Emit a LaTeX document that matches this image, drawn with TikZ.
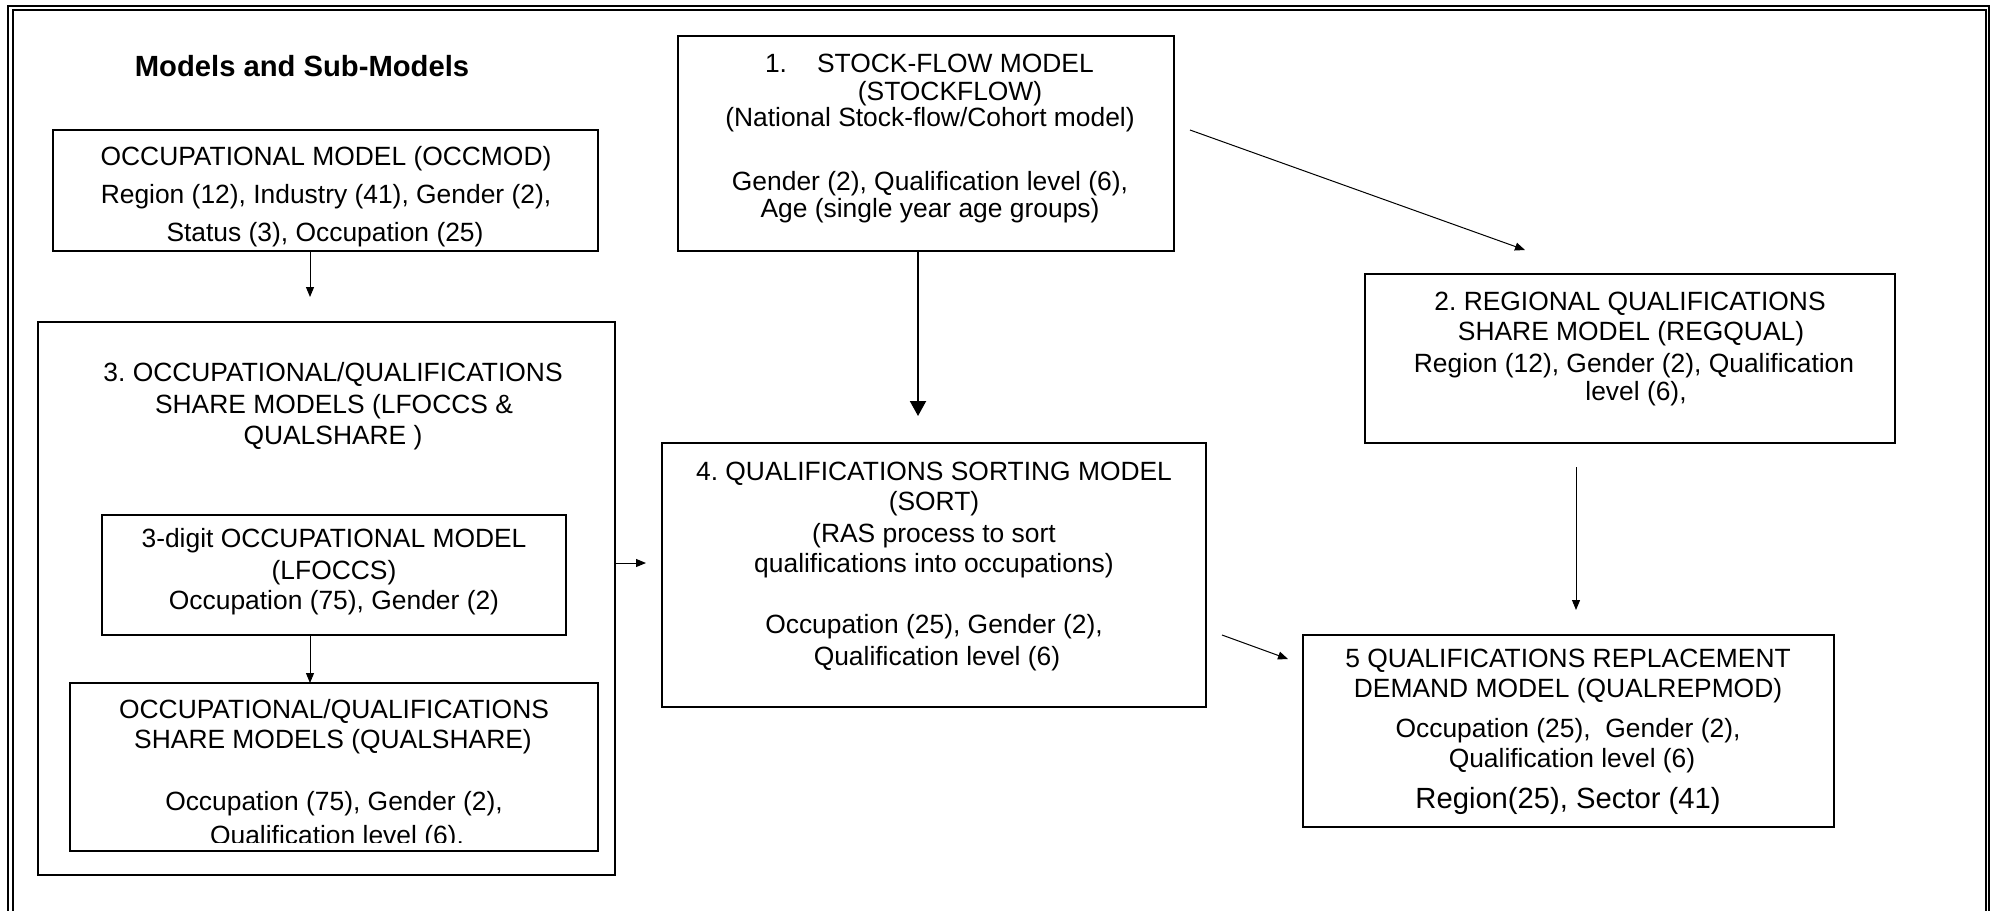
\documentclass[tikz,border=0pt]{standalone}
\usepackage{fontspec}
\setmainfont{Liberation Sans}
\usetikzlibrary{arrows.meta}
\frenchspacing
\newcommand\txtline[4]{\node[txt] (#1) at (#2,#3) {#4};}
\begin{document}
\begin{tikzpicture}[x=0.5pt,y=-0.5pt,
  thinbox/.style={draw=black, line width=0.55pt, inner sep=0pt, outer sep=0pt},
  thickbox/.style={draw=black, line width=1pt, inner sep=0pt, outer sep=0pt},
  txt/.style={anchor=base, inner sep=0pt, outer sep=0pt, font=\fontsize{13.2}{15}\selectfont},
  bigtxt/.style={txt, font=\fontsize{14.6}{17}\selectfont},
  titletxt/.style={txt, font=\fontsize{14.6}{17}\selectfont\bfseries},
  thinarr/.style={line width=0.5pt, -{Triangle[length=5pt,width=4pt]}},
  thickarr/.style={line width=1pt, -{Triangle[length=7.5pt,width=8pt]}},
  pageframe/.style={line width=1pt}
]
\useasboundingbox (0,0) rectangle (1995,910);
% page frame (double line)
\draw[pageframe] (8.3,912) -- (8.3,6) -- (1989.3,6) -- (1989.3,912);
\draw[pageframe] (12.7,912) -- (12.7,10.3) -- (1986,10.3) -- (1986,912);

% title
\node[titletxt] (title) at (302,76) {Models and Sub-Models};

% boxes
\node[thinbox, minimum width=272.5pt, minimum height=60.5pt] (occ) at (325.5,190.5) {};
\node[thickbox, minimum width=248pt, minimum height=107.5pt] (stock) at (926,143.5) {};
\node[thickbox, minimum width=265pt, minimum height=84.5pt] (regq) at (1630,358.5) {};
\node[thickbox, minimum width=288.5pt, minimum height=276.5pt] (box3) at (326.5,598.5) {};
\node[thinbox, minimum width=232pt, minimum height=60pt] (lf) at (334,575) {};
\node[thickbox, minimum width=264pt, minimum height=84pt] (qs) at (334,767) {};
\node[thickbox, minimum width=272pt, minimum height=132pt] (sort) at (934,575) {};
\node[thinbox, minimum width=265.5pt, minimum height=96pt] (qrep) at (1568.5,731) {};

% OCCMOD text
\txtline{occA}{326}{165}{OCCUPATIONAL MODEL (OCCMOD)}
\txtline{occB}{326}{203}{Region (12), Industry (41), Gender (2),}
\txtline{occC}{325}{241}{Status (3), Occupation (25)}

% STOCKFLOW text
\node[txt, anchor=base west] (stA) at (765,72) {1.\hspace{15pt}STOCK-FLOW MODEL};
\txtline{stB}{950}{100}{(STOCKFLOW)}
\txtline{stC}{930}{126}{(National Stock-flow/Cohort model)}
\txtline{stD}{930}{190}{Gender (2), Qualification level (6),}
\txtline{stE}{930}{217}{Age (single year age groups)}

% REGQUAL text
\txtline{rqA}{1630}{310}{2. REGIONAL QUALIFICATIONS}
\txtline{rqB}{1631}{340}{SHARE MODEL (REGQUAL)}
\txtline{rqC}{1634}{372}{Region (12), Gender (2), Qualification}
\txtline{rqD}{1636}{400}{level (6),}

% box 3 text
\txtline{bA}{333}{381}{3. OCCUPATIONAL/QUALIFICATIONS}
\txtline{bB}{334}{413}{SHARE MODELS (LFOCCS \&}
\txtline{bC}{333}{444}{QUALSHARE )}

% LFOCCS text
\txtline{lfA}{334}{547}{3-digit OCCUPATIONAL MODEL}
\txtline{lfB}{334}{579}{(LFOCCS)}
\txtline{lfC}{334}{609}{Occupation (75), Gender (2)}

% QUALSHARE text
\txtline{qsA}{334}{718}{OCCUPATIONAL/QUALIFICATIONS}
\txtline{qsB}{333}{748}{SHARE MODELS (QUALSHARE)}
\txtline{qsC}{334}{810}{Occupation (75), Gender (2),}
\begin{scope}
\clip (60,780) rectangle (600,842);
\txtline{qsD}{337}{844}{Qualification level (6).}
\end{scope}

% SORT text
\txtline{soA}{934}{480}{4. QUALIFICATIONS SORTING MODEL}
\txtline{soB}{934}{510}{(SORT)}
\txtline{soC}{934}{542}{(RAS process to sort}
\txtline{soD}{934}{572}{qualifications into occupations)}
\txtline{soE}{934}{633}{Occupation (25), Gender (2),}
\txtline{soF}{937}{665}{Qualification level (6)}

% QUALREPMOD text
\txtline{qrA}{1568}{667}{5 QUALIFICATIONS REPLACEMENT}
\txtline{qrB}{1568}{697}{DEMAND MODEL (QUALREPMOD)}
\txtline{qrC}{1568}{737}{Occupation (25),\ \ Gender (2),}
\txtline{qrD}{1572}{767}{Qualification level (6)}
\node[bigtxt] (qrE) at (1568,808) {Region(25), Sector (41)};

% connectors
\draw[thinarr, shorten >=12.5pt] ([xshift=-7.75pt]occ.south) -- ([xshift=-8.25pt]box3.north);
\draw[thickarr, shorten >=13.5pt] ([xshift=-4pt]stock.south) -- ([xshift=-8pt]sort.north);
\draw[thinarr] ([xshift=8pt,yshift=6.75pt]stock.east) -- ([xshift=-52.5pt,yshift=12pt]regq.north);
\draw[thinarr, shorten >=8pt] ([yshift=17.75pt]box3.east) -- ([yshift=6pt]sort.west);
\draw[thinarr] ([xshift=-12pt]lf.south) -- ([xshift=-12pt]qs.north);
\draw[thinarr, shorten <=12pt, shorten >=12.5pt] ([xshift=-27pt]regq.south) -- ([xshift=3.75pt]qrep.north);
\draw[thinarr] ([xshift=8pt,yshift=-30pt]sort.east) -- ([xshift=-7.5pt,yshift=36pt]qrep.west);
\end{tikzpicture}
\end{document}
